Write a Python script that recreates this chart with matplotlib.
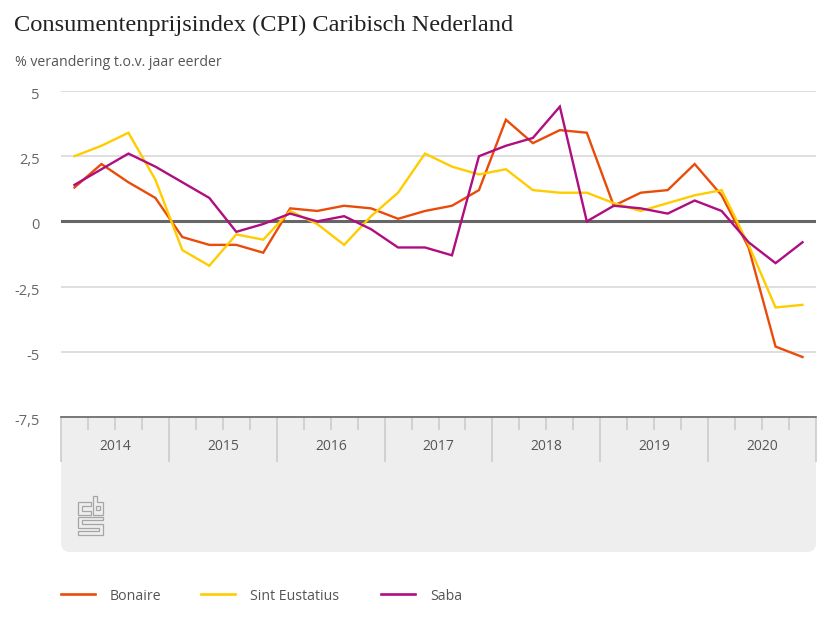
#!/usr/bin/python3
import matplotlib
matplotlib.use('Agg')
import matplotlib.pyplot as plt
from matplotlib.patches import FancyBboxPatch, Rectangle, Polygon
from matplotlib.transforms import ScaledTranslation
import numpy as np

plt.rcParams['font.family'] = ['Open Sans', 'DejaVu Sans']

years = ['2014', '2015', '2016', '2017', '2018', '2019', '2020']
yticks = [5, 2.5, 0, -2.5, -5, -7.5]
ylabels = ['5', '2,5', '0', '-2,5', '-5', '-7,5']

bonaire = [1.3, 2.2, 1.5, 0.9, -0.6, -0.9, -0.9, -1.2, 0.5, 0.4, 0.6, 0.5, 0.1, 0.4,
           0.6, 1.2, 3.9, 3.0, 3.5, 3.4, 0.6, 1.1, 1.2, 2.2, 1.0, -1.0, -4.8, -5.2]
eustatius = [2.5, 2.9, 3.4, 1.6, -1.1, -1.7, -0.5, -0.7, 0.4, -0.1, -0.9, 0.2, 1.1, 2.6,
             2.1, 1.8, 2.0, 1.2, 1.1, 1.1, 0.7, 0.4, 0.7, 1.0, 1.2, -0.9, -3.3, -3.2]
saba = [1.4, 2.0, 2.6, 2.1, 1.5, 0.9, -0.4, -0.1, 0.3, 0.0, 0.2, -0.3, -1.0, -1.0,
        -1.3, 2.5, 2.9, 3.2, 4.4, 0.0, 0.6, 0.5, 0.3, 0.8, 0.4, -0.8, -1.6, -0.8]

names = ['Bonaire', 'Sint Eustatius', 'Saba']
colors = ['#E94C0A', '#FFCC00', '#AF0E80']
legend_x = [61, 201, 381]

W, H = 830, 623
fig = plt.figure(figsize=(W / 100, H / 100), dpi=100)

def px_axes(l, t, r, b):
    return fig.add_axes([l / W, 1 - b / H, (r - l) / W, (b - t) / H])

# grey panel under the plot, square on top and rounded at the bottom
panel = fig.add_axes([0, 0, 1, 1], zorder=0)
panel.set_xlim(0, W)
panel.set_ylim(H, 0)
panel.axis('off')
panel.add_patch(FancyBboxPatch((61, 425), 755, 127, boxstyle='round,pad=0,rounding_size=9',
                               fc='#EEEEEE', ec='none'))
panel.add_patch(Rectangle((61, 417), 755, 30, fc='#EEEEEE', ec='none'))

ax = px_axes(61, 91, 816, 417)
ax.set_zorder(1)
ax.patch.set_alpha(0)
x = np.arange(len(bonaire))
for vals, name, col in zip([bonaire, eustatius, saba], names, colors):
    ax.plot(x, vals, color=col, lw=1.7, label=name, zorder=3, solid_joinstyle='miter')
ax.set_xlim(-0.5, 27.5)
ax.set_ylim(-7.5, 5)
for s in ['top', 'left', 'right']:
    ax.spines[s].set_visible(False)
ax.spines['bottom'].set_color('#666666')
ax.spines['bottom'].set_linewidth(1.2)
ax.spines['bottom'].set_zorder(4)
ax.set_yticks(yticks)
ax.set_yticklabels(ylabels, fontsize=10.5, color='#666666')
ax.tick_params(axis='y', length=0, pad=15.5)
# the labels sit a little below their gridlines in the original
shift = ScaledTranslation(0, -2.5 / 100, fig.dpi_scale_trans)
for t in ax.get_yticklabels():
    t.set_transform(t.get_transform() + shift)
ax.grid(axis='y', color='#D9D9D9', lw=1.2, zorder=1)
ax.axhline(0, color='#666666', lw=2.2, zorder=2)

# quarter ticks and year separators on the grey panel
ax.set_xticks(np.arange(-0.5, 28, 4))
ax.set_xticklabels([])
ax.set_xticks([q - 0.5 for q in range(28) if q % 4 != 0], minor=True)
ax.tick_params(axis='x', which='major', length=32.4, width=1.2, color='#CCCCCC', direction='out')
ax.tick_params(axis='x', which='minor', length=9.4, width=1.2, color='#CCCCCC', direction='out')
for i, yr in enumerate(years):
    panel.text(61 + 107.9 * (i + 0.5), 446, yr, fontsize=10, color='#555555', ha='center', va='center')

# cbs logo, outlined letters
logo = [
    [(91, 502), (78, 502), (78, 514.5), (91, 514.5), (91, 511), (82, 511), (82, 506), (91, 506)],
    [(93, 496), (97, 496), (97, 502), (103, 502), (103, 514.5), (93, 514.5)],
    [(96, 506), (99.5, 506), (99.5, 510), (96, 510)],
    [(78, 516.5), (103, 516.5), (103, 520), (82, 520), (82, 523.5), (103, 523.5), (103, 534.5),
     (78, 534.5), (78, 530.5), (98.5, 530.5), (98.5, 527.5), (78, 527.5)],
]
for pts in logo:
    panel.add_patch(Polygon(pts, closed=True, fill=False, ec='#A6A6A6', lw=0.9))

# title and subtitle
fig.text(14 / W, 1 - 25 / H, 'Consumentenprijsindex (CPI) Caribisch Nederland', fontsize=17.6,
         family='Liberation Serif', color='#222222', va='center')
fig.text(15 / W, 1 - 62 / H, '% verandering t.o.v. jaar eerder', fontsize=10.2, color='#555555', va='center')

# legend drawn by hand so that the spacing follows the original
for name, col, lx in zip(names, colors, legend_x):
    panel.plot([lx, lx + 34], [593.5, 593.5], color=col, lw=1.9)
    panel.text(lx + 49, 596, name, fontsize=10.2, color='#555555', va='center')

fig.savefig('out.png', dpi=100)
